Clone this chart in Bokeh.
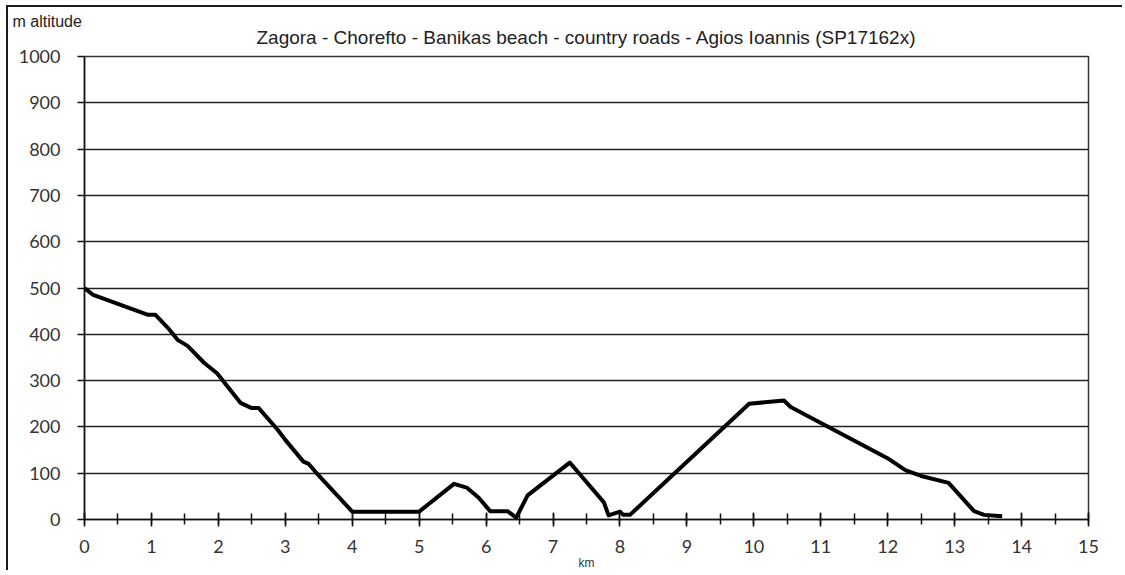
from bokeh.plotting import figure
from bokeh.models import Range1d, SingleIntervalTicker, Title
from bokeh.embed import file_html
from bokeh.resources import INLINE

# Data (km, m altitude)
km = [0.0, 0.13, 0.95, 1.06, 1.27, 1.39, 1.54, 1.79, 1.98, 2.33, 2.49, 2.6,
      2.88, 3.0, 3.27, 3.35, 3.45, 4.0, 5.0, 5.52, 5.71, 5.89, 6.06, 6.32,
      6.45, 6.62, 7.25, 7.76, 7.83, 8.0, 8.05, 8.15, 9.93, 10.45, 10.55,
      11.99, 12.27, 12.5, 12.91, 13.29, 13.44, 13.71]
alt = [500, 485, 442, 442, 410, 388, 375, 338, 316, 252, 241, 241,
       195, 172, 125, 120, 103, 17, 17, 77, 69, 47, 18, 18,
       4, 52, 123, 37, 9, 17, 10, 10, 250, 257, 243,
       133, 106, 94, 79, 18, 10, 7]

title_text = "Zagora - Chorefto - Banikas beach - country roads - Agios Ioannis (SP17162x)"
y_label = "m altitude"
x_label = "km"

# canvas origin on the page is (8, 7) because of margin + border below
OX, OY = 8, 7
W, H = 1116, 565
FL, FR, FT, FB = 84 - OX, 1088 - OX, 56 - OY, 520 - OY
p = figure(width=W, height=H, output_backend="svg", toolbar_location=None,
           x_range=Range1d(0, 15), y_range=Range1d(0, 1000),
           min_border_left=FL, min_border_right=W - FR,
           min_border_top=FT, min_border_bottom=H - FB)
p.styles = {"margin-left": "6px", "margin-top": "5px",
            "border-left": "2px solid #1a1a1a", "border-top": "2px solid #1a1a1a",
            "border-right": "0px none", "border-bottom": "0px none"}
p.background_fill_color = "white"
p.border_fill_color = "white"
p.outline_line_color = "#333333"
p.outline_line_width = 1.5

# outermost title: "m altitude"
p.title.text = y_label
p.title.align = "left"
p.title.offset = -72
p.title.text_font = "Liberation Sans"
p.title.text_font_size = "16px"
p.title.text_font_style = "normal"
p.title.text_color = "#222222"
p.title.standoff = -2

# spacer next to the frame, then the main title
p.add_layout(Title(text=" ", text_font_size="1px", standoff=10), "above")
p.add_layout(Title(text=title_text, align="center", offset=-17,
                   text_font="Liberation Sans", text_font_size="19px",
                   text_font_style="normal", text_color="#222222", standoff=-8), "above")

# grid
p.xgrid.visible = False
p.ygrid.grid_line_color = "#222222"
p.ygrid.grid_line_width = 1.5
p.ygrid.ticker = SingleIntervalTicker(interval=100)

# x axis
p.xaxis.ticker = SingleIntervalTicker(interval=1, num_minor_ticks=2)
p.xaxis.major_tick_in = 7
p.xaxis.major_tick_out = 7
p.xaxis.minor_tick_in = 6
p.xaxis.minor_tick_out = 5
p.xaxis.major_tick_line_color = "#111111"
p.xaxis.minor_tick_line_color = "#111111"
p.xaxis.major_tick_line_width = 1.5
p.xaxis.minor_tick_line_width = 1.5
p.xaxis.axis_line_color = "#111111"
p.xaxis.axis_line_width = 1.5
p.xaxis.major_label_text_font = "Lato"
p.xaxis.major_label_text_font_size = "18px"
p.xaxis.major_label_text_color = "#333333"
p.xaxis.major_label_standoff = 13
p.xaxis.axis_label = x_label
p.xaxis.axis_label_text_font = "Liberation Sans"
p.xaxis.axis_label_text_font_size = "12px"
p.xaxis.axis_label_text_font_style = "normal"
p.xaxis.axis_label_text_color = "#333333"
p.xaxis.axis_label_standoff = 0

# y axis
p.yaxis.ticker = SingleIntervalTicker(interval=100, num_minor_ticks=0)
p.yaxis.major_tick_in = 0
p.yaxis.major_tick_out = 7
p.yaxis.minor_tick_in = 0
p.yaxis.minor_tick_out = 0
p.yaxis.major_tick_line_color = "#111111"
p.yaxis.major_tick_line_width = 1.5
p.yaxis.axis_line_color = "#111111"
p.yaxis.axis_line_width = 1.5
p.yaxis.major_label_text_font = "Lato"
p.yaxis.major_label_text_font_size = "18px"
p.yaxis.major_label_text_color = "#333333"
p.yaxis.major_label_standoff = 17

# profile line
p.line(km, alt, line_color="black", line_width=4, line_join="round")

open("out.html", "w").write(file_html(p, INLINE))
